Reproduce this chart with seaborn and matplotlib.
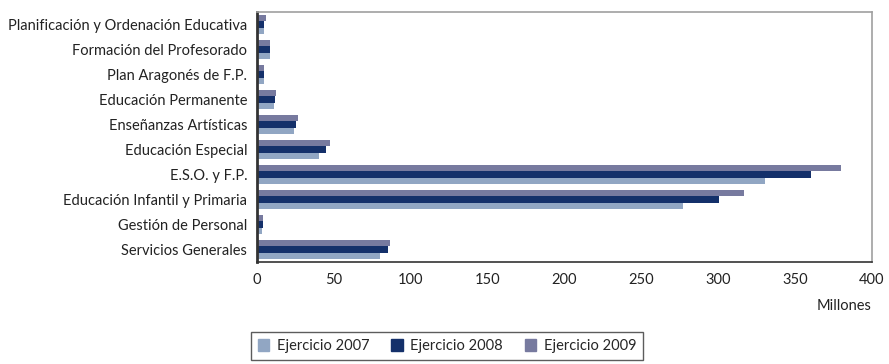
"""Presupuesto de educación por programa, ejercicios 2007-2009"""

import pandas as pd
import matplotlib
matplotlib.use('Agg')
import matplotlib.pyplot as plt
import matplotlib.patches as mpatches
import seaborn as sns

# Data (millones de euros), categories from top to bottom
programas = [
    'Planificación y Ordenación Educativa',
    'Formación del Profesorado',
    'Plan Aragonés de F.P.',
    'Educación Permanente',
    'Enseñanzas Artísticas',
    'Educación Especial',
    'E.S.O. y F.P.',
    'Educación Infantil y Primaria',
    'Gestión de Personal',
    'Servicios Generales',
]
ejercicio_2007 = [4.8, 8.7, 4.8, 11.3, 24.2, 40.5, 330.6, 277.0, 3.5, 80.0]
ejercicio_2008 = [4.8, 8.7, 4.8, 11.9, 25.5, 45.0, 360.5, 300.3, 4.1, 85.3]
ejercicio_2009 = [6.1, 8.7, 4.8, 12.6, 26.8, 47.6, 380.0, 316.9, 4.1, 86.2]
series = ['Ejercicio 2007', 'Ejercicio 2008', 'Ejercicio 2009']
colores = ['#91a6c3', '#14306a', '#777a9f']

df = pd.DataFrame({
    'programa': programas * 3,
    'valor': ejercicio_2007 + ejercicio_2008 + ejercicio_2009,
    'serie': [s for s in series for _ in programas],
})

sns.set_style('white')
plt.rcParams['font.family'] = ['Lato', 'DejaVu Sans']
fs = 10.5

fig = plt.figure(figsize=(8.89, 3.64), dpi=100)
ax = fig.add_axes([257 / 889, (364 - 262) / 364, (872 - 257) / 889, 250 / 364])

# 2009 on top of each group, 2007 at the bottom
sns.barplot(
    data=df, x='valor', y='programa', hue='serie',
    order=programas, hue_order=series[::-1],
    palette=dict(zip(series, colores)),
    width=0.75, saturation=1, linewidth=0, edgecolor='none',
    ax=ax, legend=False,
)

ax.set_xlim(0, 400)
ax.set_ylim(len(programas) - 0.5, -0.5)
ax.set_xticks(range(0, 401, 50))
ax.set_xlabel('')
ax.set_ylabel('')
ax.tick_params(axis='x', labelsize=fs, colors='#222222', direction='out',
               length=4, width=1, pad=4)
ax.tick_params(axis='y', which='major', labelsize=fs, colors='#222222', length=0, pad=7)
ax.set_yticks([i + 0.5 for i in range(-1, len(programas))], minor=True)
ax.tick_params(axis='y', which='minor', length=3, width=1, color='#555555')
for lbl in ax.get_xticklabels() + ax.get_yticklabels():
    lbl.set_color('#222222')

for side in ['top', 'right']:
    ax.spines[side].set_color('#a0a0a0')
    ax.spines[side].set_linewidth(1.2)
ax.spines['left'].set_color('#333333')
ax.spines['left'].set_linewidth(2)
ax.spines['bottom'].set_color('#333333')
ax.spines['bottom'].set_linewidth(1.2)

fig.text(872 / 889, 1 - 306 / 364, 'Millones', ha='right', va='center',
         fontsize=fs, color='#222222')

handles = [mpatches.Patch(color=c, label=s) for s, c in zip(series, colores)]
leg = fig.legend(handles=handles, loc='center', bbox_to_anchor=(447 / 889, 1 - 346 / 364),
                 ncol=3, frameon=True, fancybox=False, fontsize=fs,
                 handlelength=0.8, handleheight=0.8, handletextpad=0.5,
                 columnspacing=1.5, borderpad=0.5)
leg.get_frame().set_edgecolor('#333333')
leg.get_frame().set_linewidth(1)

fig.savefig('out.png', dpi=100)
